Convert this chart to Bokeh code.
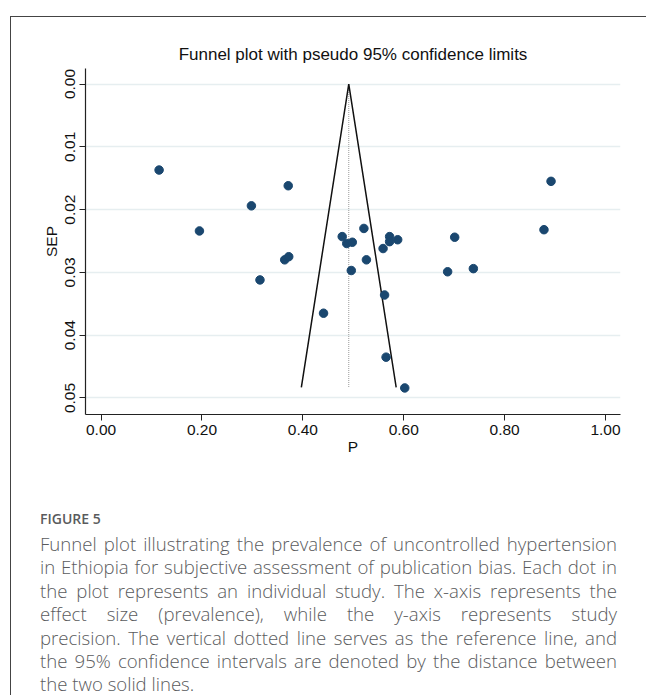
from bokeh.plotting import figure
from bokeh.models import Range1d, FixedTicker, Div, NumeralTickFormatter
from bokeh.layouts import column
from bokeh.embed import file_html
from bokeh.resources import INLINE

# Study data: prevalence (P) and its standard error (SEP)
p_values = [0.115, 0.371, 0.298, 0.195, 0.364, 0.372, 0.315, 0.478, 0.521,
            0.487, 0.498, 0.572, 0.572, 0.588, 0.559, 0.526, 0.496, 0.562,
            0.441, 0.565, 0.602, 0.687, 0.738, 0.701, 0.878, 0.892]
sep_values = [0.0137, 0.0162, 0.0194, 0.0234, 0.0280, 0.0275, 0.0312, 0.0243, 0.0230,
              0.0254, 0.0252, 0.0243, 0.0251, 0.0248, 0.0262, 0.0280, 0.0297, 0.0336,
              0.0365, 0.0435, 0.0484, 0.0299, 0.0294, 0.0244, 0.0232, 0.0155]

# Pseudo 95% confidence limits and the reference line
funnel_p = [0.397, 0.491, 0.585]
funnel_se = [0.0483, 0.0, 0.0483]
ref_p = [0.491, 0.491]
ref_se = [0.0, 0.0483]

x_ticks = [0.0, 0.2, 0.4, 0.6, 0.8, 1.0]
y_ticks = [0.0, 0.01, 0.02, 0.03, 0.04, 0.05]

title_text = "Funnel plot with pseudo 95% confidence limits"
caption_head = "FIGURE 5"
caption_lines = [
    "Funnel plot illustrating the prevalence of uncontrolled hypertension",
    "in Ethiopia for subjective assessment of publication bias. Each dot in",
    "the plot represents an individual study. The x-axis represents the",
    "effect size (prevalence), while the y-axis represents study",
    "precision. The vertical dotted line serves as the reference line, and",
    "the 95% confidence intervals are denoted by the distance between",
    "the two solid lines.",
]

FONT = "Liberation Sans"

p = figure(width=635, height=450,
           x_range=Range1d(-0.0309, 1.0297),
           y_range=Range1d(0.05263, -0.00247),
           output_backend="svg", toolbar_location=None,
           min_border_left=74, min_border_right=26,
           min_border_top=51, min_border_bottom=53,
           title=title_text)
p.outline_line_color = None
p.background_fill_color = "white"
p.border_fill_color = "white"

p.title.align = "center"
p.title.text_font = FONT
p.title.text_font_size = "17px"
p.title.text_font_style = "normal"
p.title.text_color = "#111111"
p.title.offset = 0

p.xgrid.visible = False
p.ygrid.grid_line_color = "#e6eef0"
p.ygrid.grid_line_width = 1.5

for ax in (p.xaxis[0], p.yaxis[0]):
    ax.axis_line_color = "#222222"
    ax.axis_line_width = 1.2
    ax.major_tick_line_color = "#222222"
    ax.major_tick_out = 6
    ax.major_tick_in = 0
    ax.minor_tick_line_color = None
    ax.major_label_text_font = FONT
    ax.major_label_text_font_size = "15.5px"
    ax.major_label_text_color = "#111111"
    ax.axis_label_text_font = FONT
    ax.axis_label_text_font_size = "15.5px"
    ax.axis_label_text_font_style = "normal"
    ax.axis_label_text_color = "#111111"
    ax.formatter = NumeralTickFormatter(format="0.00")

p.xaxis.ticker = FixedTicker(ticks=x_ticks)
p.yaxis.ticker = FixedTicker(ticks=y_ticks)
p.xaxis.axis_label = "P"
p.yaxis.axis_label = "SEP"
p.yaxis.major_label_orientation = "vertical"
p.xaxis.major_label_standoff = 4
p.yaxis.major_label_standoff = 4
p.xaxis.axis_label_standoff = 0
p.yaxis.axis_label_standoff = 3

p.line(ref_p, ref_se, line_color="#9a9a9a", line_width=1, line_dash="1 1")
p.line(funnel_p, funnel_se, line_color="#111111", line_width=1.5)
p.scatter(p_values, sep_values, size=8.5, fill_color="#1a476f", line_color="#1a476f")

line_style = ("white-space:nowrap;text-align:justify;text-align-last:justify;"
              "height:23.4px;line-height:23.4px;")
last_style = "white-space:nowrap;text-align:left;height:23.4px;line-height:23.4px;"
body = "".join(
    '<div style="' + (last_style if i == len(caption_lines) - 1 else line_style) + '">'
    + ln + '</div>'
    for i, ln in enumerate(caption_lines))

cap = Div(text=(
    '<div style="font-family:\'Open Sans\';color:#5a5b5d;margin-left:29px;width:577px;">'
    '<div style="font-size:14px;font-weight:600;line-height:20px;">' + caption_head + '</div>'
    '<div style="font-size:18.6px;font-weight:300;margin-top:3px;">' + body + '</div></div>'),
    width=635, height=186, margin=(42, 0, 0, 0))

layout = column(p, cap, margin=(16, 0, 0, 10),
                styles={"border-top": "1px solid #444444", "border-left": "1px solid #444444"})

open("out.html", "w").write(file_html(layout, INLINE))
